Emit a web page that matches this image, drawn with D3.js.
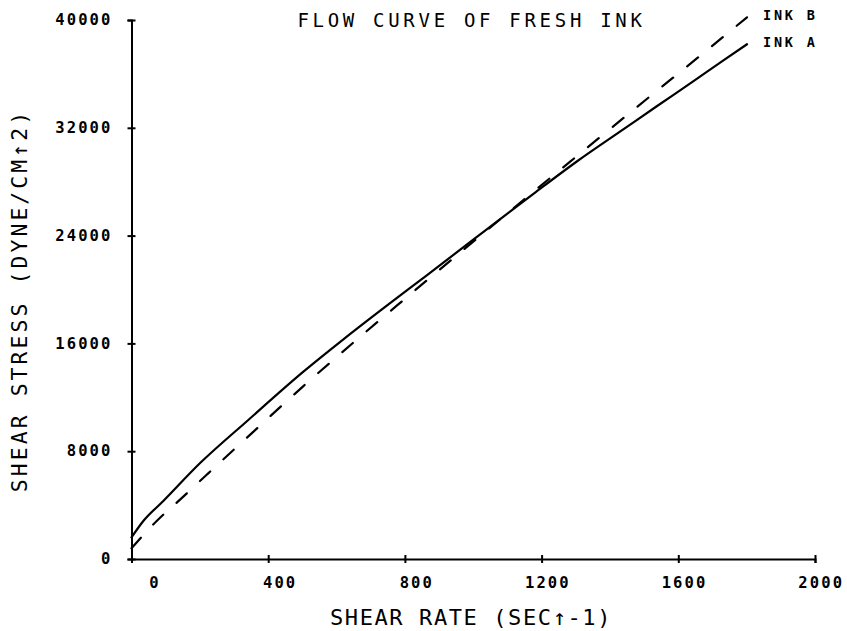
<!DOCTYPE html>
<html><head><meta charset="utf-8">
<script src="https://d3js.org/d3.v7.min.js"></script>
<style>
body{margin:0;background:#fff}
svg{display:block;background:#fff}
text{fill:#000}
</style>
</head><body><svg id="chart" width="847" height="631"></svg>
<script>
// Flow curves: shear rate (1/s) vs shear stress (dyne/cm^2)
const shearRateA = [0, 34, 93, 200, 341, 503, 620, 747, 864, 1000, 1176, 1303, 1440, 1537, 1635, 1732, 1801];
const stressA    = [1600, 2800, 4300, 7100, 10300, 13900, 16300, 18800, 21050, 23700, 27100, 29500, 31900, 33600, 35300, 37000, 38200];
const shearRateB = [0, 73, 146, 220, 288, 361, 503, 649, 795, 1000, 1176, 1313, 1518, 1664, 1801];
const stressB    = [800, 2800, 4500, 6250, 7850, 9550, 12830, 16060, 19200, 23550, 27250, 30100, 34350, 37350, 40200];
const seriesNames = ["INK A", "INK B"];
const xTicks = [0, 400, 800, 1200, 1600, 2000];
const yTicks = [0, 8000, 16000, 24000, 32000, 40000];
const titleText = "FLOW CURVE OF FRESH INK";
const xTitle = "SHEAR RATE (SEC\u2191-1)";
const yTitle = "SHEAR STRESS (DYNE/CM\u21912)";

const FONT = "'DejaVu Sans Mono', 'Liberation Mono', monospace";
const svg = d3.select("#chart");

const x = d3.scaleLinear().domain([0, 2000]).range([131.5, 815]);
const y = d3.scaleLinear().domain([0, 40000]).range([559, 20]);

// numbers sit in a 5-character field, like the plotter's fixed format
const pad5 = v => String(v).padStart(5, "\u00a0");

// x axis
const gx = svg.append("g").attr("transform", `translate(0,${y(0)})`)
  .call(d3.axisBottom(x).tickValues(xTicks).tickSizeOuter(0).tickSize(4).tickFormat(pad5));
gx.select(".domain").attr("stroke", "#000").attr("stroke-width", 2);
gx.selectAll(".tick line").attr("y1", -4).attr("y2", 4).attr("stroke", "#000").attr("stroke-width", 2);
gx.selectAll(".tick text")
  .attr("y", 29).attr("dy", null)
  .attr("font-family", FONT).attr("font-weight", "bold").attr("font-size", 15.5)
  .attr("letter-spacing", 2.1).attr("fill", "#000");

// y axis
const gy = svg.append("g").attr("transform", `translate(${x(0)},0)`)
  .call(d3.axisLeft(y).tickValues(yTicks).tickSizeOuter(0).tickSize(4).tickFormat(pad5));
gy.select(".domain").attr("stroke", "#000").attr("stroke-width", 2);
gy.selectAll(".tick line").attr("x1", -4).attr("x2", 4).attr("stroke", "#000").attr("stroke-width", 2);
gy.selectAll(".tick text")
  .attr("x", -19).attr("dy", "0.3em")
  .attr("font-family", FONT).attr("font-weight", "bold").attr("font-size", 15.5)
  .attr("letter-spacing", 2.1).attr("fill", "#000");
svg.selectAll(".tick text").attr("xml:space", "preserve").style("white-space", "pre");

// curves
const line = d3.line().x(d => x(d[0])).y(d => y(d[1])).curve(d3.curveMonotoneX);
const dataA = shearRateA.map((r, i) => [r, stressA[i]]);
const dataB = shearRateB.map((r, i) => [r, stressB[i]]);

svg.append("path").datum(dataA).attr("d", line)
  .attr("fill", "none").attr("stroke", "#000").attr("stroke-width", 2.2)
  .attr("stroke-linejoin", "round").attr("stroke-linecap", "round");
svg.append("path").datum(dataB).attr("d", line)
  .attr("fill", "none").attr("stroke", "#000").attr("stroke-width", 2.2)
  .attr("stroke-dasharray", "14,18").attr("stroke-linecap", "round");

// series labels at curve ends
[[dataA, seriesNames[0]], [dataB, seriesNames[1]]].forEach(([d, name]) => {
  const last = d[d.length - 1];
  svg.append("text")
    .attr("x", x(last[0]) + 16).attr("y", y(last[1]) + 3)
    .attr("font-family", FONT).attr("font-weight", "bold").attr("font-size", 13.5)
    .attr("letter-spacing", 2.8).text(name);
});

// titles
svg.append("text").attr("x", 471.5).attr("y", 27).attr("text-anchor", "middle")
  .attr("font-family", FONT).attr("font-size", 19).attr("letter-spacing", 3.7)
  .text(titleText);
svg.append("text").attr("x", 471).attr("y", 625).attr("text-anchor", "middle")
  .attr("font-family", FONT).attr("font-size", 22).attr("letter-spacing", 1.6)
  .text(xTitle);
svg.append("text").attr("transform", "translate(27.3,300.5) rotate(-90)").attr("text-anchor", "middle")
  .attr("font-family", FONT).attr("font-size", 21.4).attr("letter-spacing", 3.1)
  .text(yTitle);
</script>
</body></html>
